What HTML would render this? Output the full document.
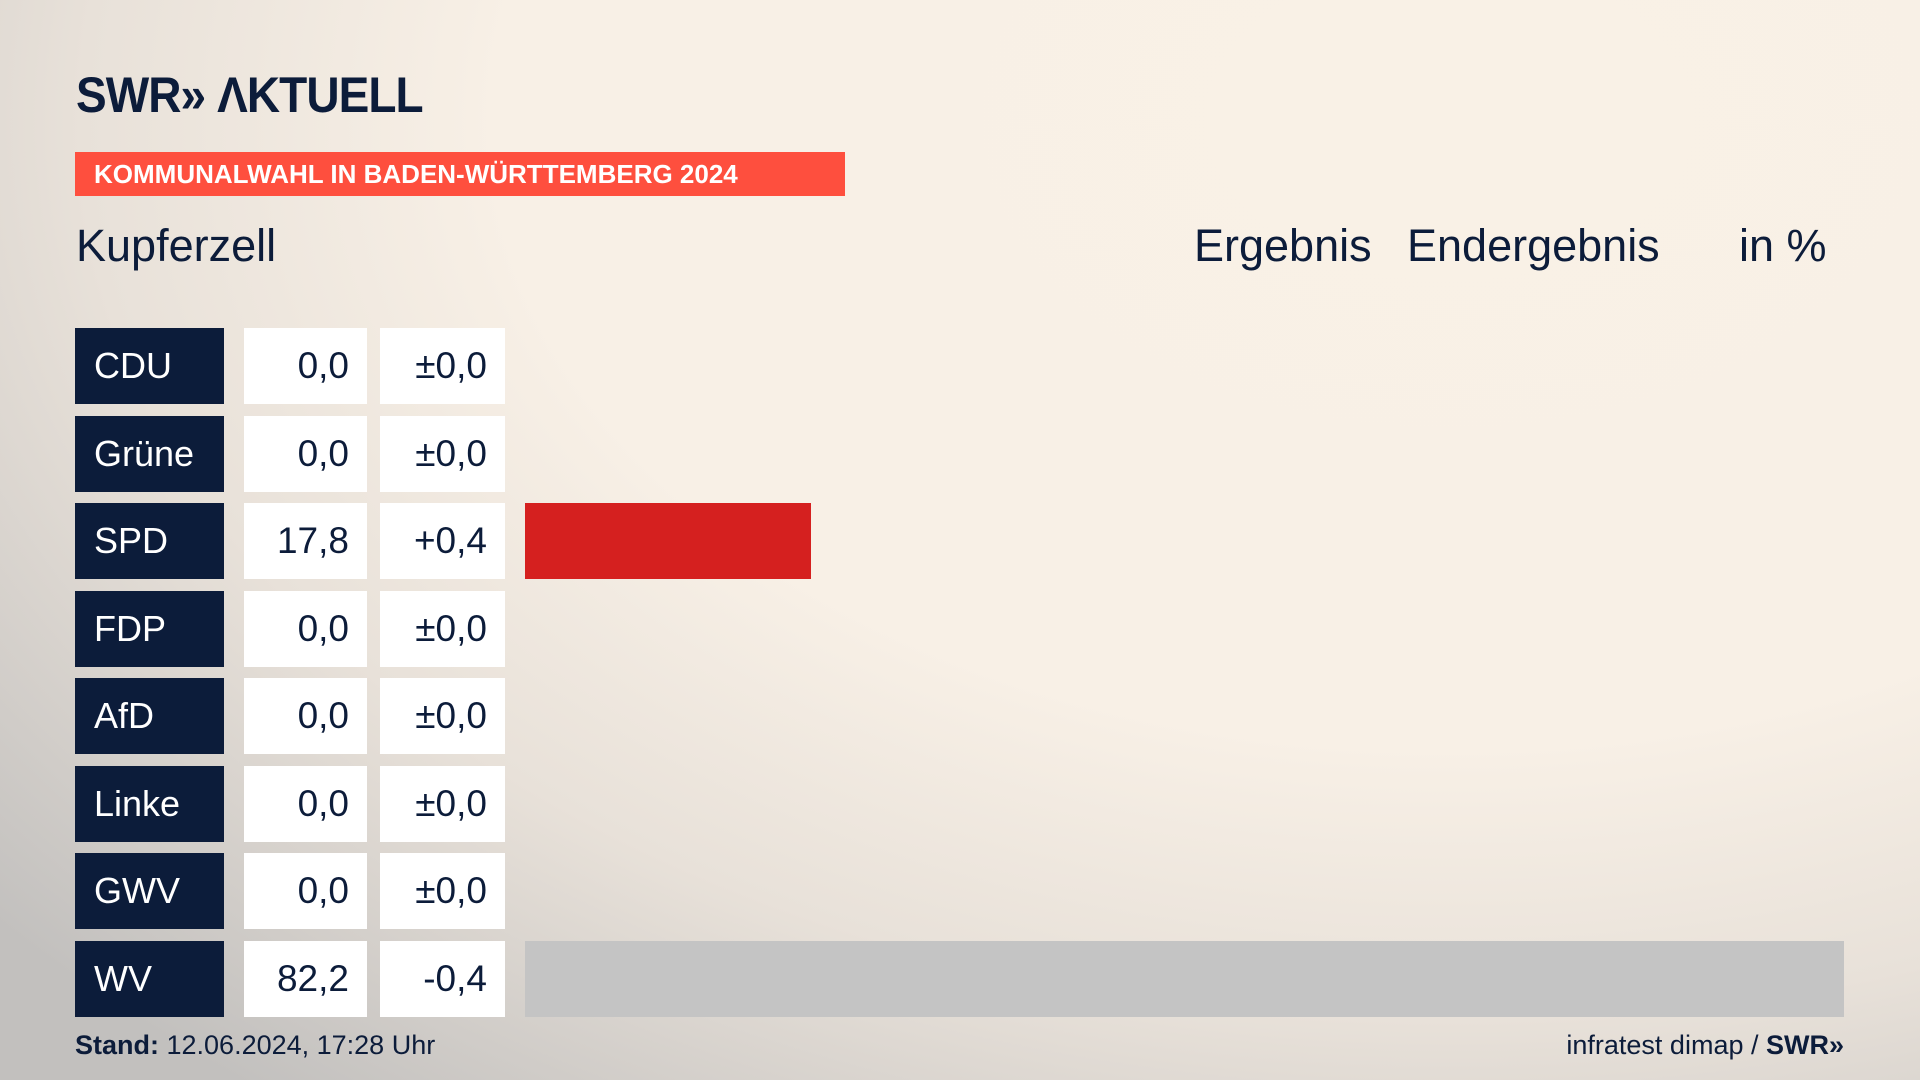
<!DOCTYPE html>
<html><head><meta charset="utf-8"><style>
html,body{margin:0;padding:0}
body{width:1920px;height:1080px;position:relative;overflow:hidden;font-family:"Liberation Sans",sans-serif;color:#0c1c3a;
background:radial-gradient(ellipse 1900px 1250px at 1450px 120px,#f9f1e6 0%,#f8f0e6 50%,#e8e1d9 72%,#c2c0be 100%);}
.abs{position:absolute}
.logo{left:76px;top:66px;font-size:50px;font-weight:bold;letter-spacing:-1px;transform:scaleX(0.92);transform-origin:left;white-space:nowrap}
.banner{left:75px;top:152px;width:770px;height:44px;background:#fe4f3e;color:#fff;font-weight:bold;font-size:26px;line-height:44px;box-sizing:border-box;padding-left:19px}
.hd{font-size:45px;top:220px}
.party{left:75px;width:149px;background:#0c1c3a;color:#fff;font-size:36px;box-sizing:border-box;padding-left:19px}
.val{background:#fff;font-size:37px;text-align:right;box-sizing:border-box;padding-right:18px}
.foot{top:1030px;font-size:27px}
</style></head><body>
<div class="abs logo">SWR&#187;&nbsp;ΛKTUELL</div>
<div class="abs banner">KOMMUNALWAHL IN BADEN-WÜRTTEMBERG 2024</div>
<div class="abs hd" style="left:76px">Kupferzell</div>
<div class="abs hd" style="left:1194px">Ergebnis</div>
<div class="abs hd" style="left:1407px">Endergebnis</div>
<div class="abs hd" style="left:1739px">in %</div>
<div id="rows"></div>
<div class="abs foot" style="left:75px"><b>Stand:</b> 12.06.2024, 17:28 Uhr</div>
<div class="abs foot" style="right:76px">infratest dimap / <b>SWR&#187;</b></div>
<script>
const parties=["CDU","Grüne","SPD","FDP","AfD","Linke","GWV","WV"];
const values=[0,0,17.8,0,0,0,0,82.2];
const diffs=["±0,0","±0,0","+0,4","±0,0","±0,0","±0,0","±0,0","-0,4"];
const colors=["#000","#000","#d5201f","#000","#000","#000","#000","#c4c4c4"];
const top0=328,pitch=87.5,h=76,barX=525,barW=1319,maxV=82.2;
const root=document.getElementById('rows');
function x(v){return v/maxV*barW;}
parties.forEach((p,i)=>{
  const y=top0+i*pitch;
  const a=document.createElement('div');a.className='abs party';
  a.style.cssText=`top:${y}px;height:${h}px;line-height:${h}px`;a.textContent=p;
  
  
  root.appendChild(a);
  const b=document.createElement('div');b.className='abs val';
  b.style.cssText=`left:244px;width:123px;top:${y}px;height:${h}px;line-height:${h}px`;
  b.textContent=values[i].toFixed(1).replace('.',',');
  
  
  root.appendChild(b);
  const c=document.createElement('div');c.className='abs val';
  c.style.cssText=`left:380px;width:125px;top:${y}px;height:${h}px;line-height:${h}px`;
  c.textContent=diffs[i];
  
  
  root.appendChild(c);
  if(values[i]>0){
    const d=document.createElement('div');d.className='abs';
    d.style.cssText=`left:${barX}px;width:${x(values[i])}px;top:${y}px;height:${h}px;background:${colors[i]}`;
    
    
    root.appendChild(d);
  }
});
</script>
</body></html>
